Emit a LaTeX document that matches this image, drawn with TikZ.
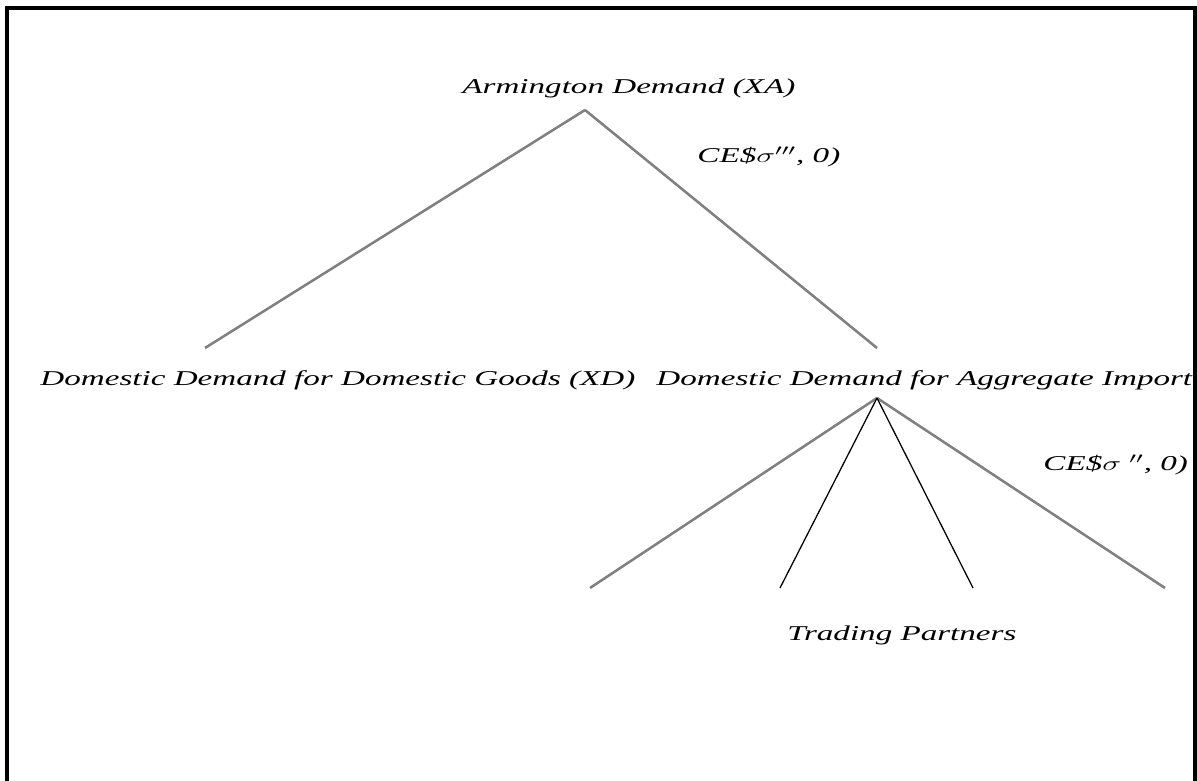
\documentclass[tikz,border=0pt]{standalone}
\usepackage{amsmath, amssymb}
\usepackage{fontspec}
\setmainfont{Liberation Serif}
\usepackage{tikz}
\usetikzlibrary{positioning}

\tikzset{
	lbl/.style={font=\fontsize{15}{18}\selectfont\itshape, xscale=1.57, inner sep=0pt},
	branch/.style={draw=gray, line width=1.8pt},
	thin/.style={draw=black, line width=0.9pt}
}

\begin{document}
\begin{tikzpicture}
		\useasboundingbox (0,0) rectangle (29.925,-19.525);
		\draw[line width=2.2pt] (0.175,-19.8) -- (0.175,-0.2) -- (29.875,-0.2) -- (29.875,-19.8);
		%
		\node[lbl,anchor=west] (XA) at (11.55,-2.2) {Armington Demand (XA)};
		\node[lbl,anchor=west] (ceA) at (17.425,-3.925) {CE\$$\sigma^{\prime\prime\prime}$, 0)};
		\node[lbl,anchor=west] (XD) at (1.0,-9.5) {Domestic Demand for Domestic Goods (XD)};
		\node[lbl,anchor=west] (XM) at (16.4,-9.5) {Domestic Demand for Aggregate Import};
		\node[lbl,anchor=west] (ceM) at (26.075,-11.625) {CE\$$\sigma$ $^{\prime\prime}$, 0)};
		\node[lbl,anchor=west] (TP) at (19.675,-15.875) {Trading Partners};
		%
		\coordinate (topA) at (14.625,-2.75);
		\coordinate (endD) at (5.125,-8.7);
		\coordinate (endM) at (21.925,-8.7);
		\coordinate (topM) at (21.925,-9.95);
		\coordinate (p1) at (14.75,-14.7);
		\coordinate (p2) at (19.5,-14.7);
		\coordinate (p3) at (24.325,-14.7);
		\coordinate (p4) at (29.125,-14.7);
		%
		\path[branch] (topA) edge (endD)
			edge (endM);
		\path[branch] (topM) edge (p1)
			edge (p4);
		\path[thin] (topM) edge (p2)
			edge (p3);
	\end{tikzpicture}
\end{document}
